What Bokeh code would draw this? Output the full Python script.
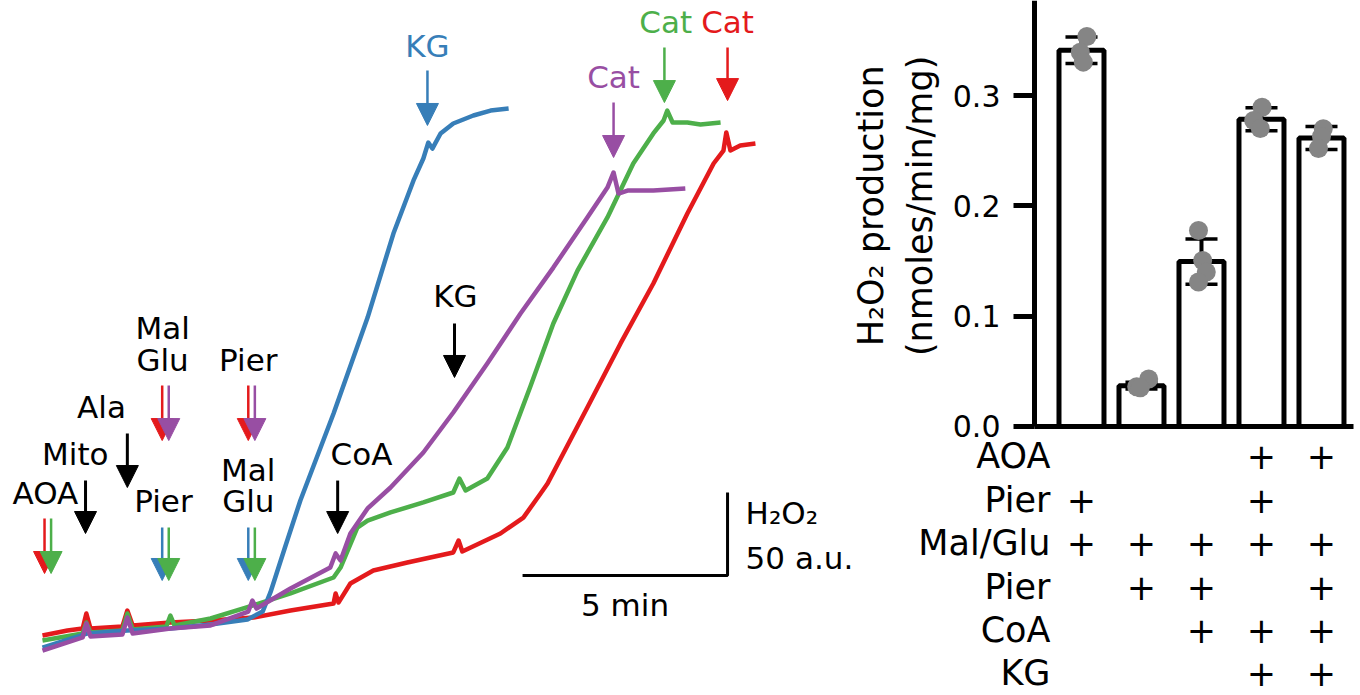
import math
from bokeh.plotting import figure
from bokeh.models import (ColumnDataSource, Arrow, NormalHead, Range1d, LinearAxis,
                          FixedTicker, PrintfTickFormatter)
from bokeh.core.properties import value
from bokeh.embed import file_html
from bokeh.resources import INLINE

FONT = "DejaVu Sans"
RED, GREEN, BLUE, PURPLE = "#e41a1c", "#4daf4a", "#377eb8", "#984ea3"

# ---------------- traces (time in min, H2O2 signal in a.u.) ----------------
red_t = [0, 0.61, 0.98, 1.07, 1.17, 1.95, 2.07, 2.20, 3.12, 4.10, 5.15, 6.05, 7.10, 7.15,
         7.22, 7.51, 8.07, 8.90, 10.02, 10.15, 10.24, 11.17, 11.73, 12.15, 12.32, 13.29,
         14.10, 14.90, 15.73, 16.37, 16.61, 16.68, 16.78, 17.02, 17.39]
red_y = [15.1, 18.1, 19.3, 28.3, 19.3, 20.5, 30.1, 21.1, 22.9, 24.1, 25.9, 30.1, 34.3, 40.4,
         34.9, 46.4, 54.2, 59.0, 65.1, 72.3, 65.7, 76.5, 86.1, 100.6, 106.6, 152.4,
         191.0, 227.1, 269.3, 299.4, 307.2, 318.1, 307.2, 310.2, 311.4]

green_t = [0, 0.98, 1.07, 1.17, 1.95, 2.07, 2.20, 3.02, 3.12, 3.22, 4.10, 5.12, 6.05, 7.10,
           7.27, 7.68, 7.93, 8.49, 9.29, 10.02, 10.17, 10.32, 10.85, 11.34, 11.90, 12.46,
           13.05, 13.78, 14.41, 14.90, 15.15, 15.24, 15.37, 15.73, 16.05, 16.54]
green_y = [12.0, 16.3, 22.9, 16.9, 18.1, 28.3, 18.7, 20.5, 27.1, 21.1, 25.3, 33.1, 40.4, 50.0,
           56.0, 80.1, 84.3, 89.2, 95.2, 101.2, 109.6, 102.4, 109.6, 128.3, 165.1, 203.0,
           234.9, 266.9, 299.4, 317.5, 325.3, 331.3, 324.1, 324.1, 322.9, 324.1]

blue_t = [0, 1.10, 2.07, 3.12, 4.10, 5.00, 5.37, 5.56, 5.93, 6.29, 7.10, 7.93, 8.56, 9.05,
          9.29, 9.41, 9.51, 9.71, 10.02, 10.51, 10.93, 11.37]
blue_y = [7.8, 16.3, 18.1, 19.3, 21.7, 24.7, 29.5, 41.0, 69.3, 96.4, 148.8, 206.6, 257.2, 289.2,
          302.4, 312.0, 308.4, 317.5, 323.5, 328.3, 331.3, 332.5]

purple_t = [0, 0.98, 1.07, 1.17, 1.95, 2.07, 2.20, 3.12, 4.10, 5.02, 5.12, 5.22, 6.05, 7.02,
            7.15, 7.27, 7.51, 7.93, 8.49, 9.29, 10.02, 10.85, 11.66, 12.46, 13.29, 13.78,
            13.93, 14.05, 14.27, 14.90, 15.68]
purple_y = [6.0, 13.9, 22.3, 14.5, 15.7, 25.9, 16.3, 19.3, 21.1, 29.5, 36.1, 31.3, 43.4, 56.0,
            64.5, 60.2, 76.5, 91.6, 104.2, 125.3, 149.4, 178.9, 209.0, 236.7, 266.9, 284.9,
            294.0, 281.3, 283.1, 283.1, 284.3]

# addition times (min)
t_aoa, t_mito, t_ala, t_first, t_second, t_coa, t_kg = 0.13, 1.05, 2.07, 3.0, 5.10, 7.20, 10.05
t_kg_blue, t_cat_purple, t_cat_green, t_cat_red = 9.39, 13.93, 15.17, 16.71

SCALE_MIN = 5     # scale bar: 5 min
SCALE_AU = 50     # scale bar: 50 a.u.

# ---------------- bar chart data ----------------
bar_x = [1, 2, 3, 4, 5]
bar_mean = [0.341, 0.037, 0.1495, 0.2785, 0.2615]
bar_sd = [0.012, 0.003, 0.0205, 0.0105, 0.0105]
dot_group = [1, 1, 1, 2, 2, 2, 3, 3, 3, 3, 4, 4, 4, 5, 5, 5]
dot_jitter = [0.09, -0.02, 0.03, -0.08, 0.12, -0.02, -0.05, 0.02, 0.08, -0.05, 0.01, -0.13, -0.02, 0.03, 0.0, -0.05]
dot_val = [0.3536, 0.3393, 0.3303, 0.036, 0.043, 0.035, 0.1777, 0.1505, 0.140, 0.131,
           0.2895, 0.2774, 0.2702, 0.270, 0.263, 0.252]
y_ticks = [0.0, 0.1, 0.2, 0.3]

row_labels = ["AOA", "Pier", "Mal/Glu", "Pier", "CoA", "KG"]
table = [[0, 0, 0, 1, 1],
         [1, 0, 0, 1, 0],
         [1, 1, 1, 1, 1],
         [0, 1, 1, 0, 1],
         [0, 0, 1, 1, 1],
         [0, 0, 0, 1, 1]]

# ================= one canvas, two coordinate systems =================
p = figure(width=1358, height=693, x_range=Range1d(-1.024, 32.10), y_range=Range1d(-19.88, 397.59),
           output_backend="svg", toolbar_location=None, x_axis_type=None, y_axis_type=None,
           min_border=0)
p.outline_line_color = None
p.extra_x_ranges = {"bx": Range1d(-17.017, 5.617)}
p.extra_y_ranges = {"by": Range1d(-0.2421, 0.3862), "rows": Range1d(start=5.461, end=-10.507)}

# ---- left panel: traces ----
for t, y, c in [(red_t, red_y, RED), (green_t, green_y, GREEN), (blue_t, blue_y, BLUE),
                (purple_t, purple_y, PURPLE)]:
    p.line(t, y, line_color=c, line_width=4.5, line_join="round")


def arrows(xs, y_top, y_tip, color, lw=3):
    src = ColumnDataSource(dict(x=xs, y0=[y_top] * len(xs), y1=[y_tip] * len(xs)))
    p.add_layout(Arrow(source=src, x_start="x", y_start="y0", x_end="x", y_end="y1",
                       line_color=color, line_width=lw,
                       end=NormalHead(size=22, fill_color=color, line_color=color, line_width=1)))


dx = 0.08  # half separation of paired arrows
arrows([t_mito, t_coa], 108.4, 76.5, "black")
arrows([t_ala], 136.7, 104.2, "black")
arrows([t_kg], 203.0, 170.5, "black")
arrows([t_aoa - dx], 85.5, 52.4, RED, 2.5)
arrows([t_aoa + dx], 85.5, 52.4, GREEN, 2.5)
arrows([t_first - dx, t_second - dx], 80.1, 48.2, BLUE, 2.5)
arrows([t_first + dx, t_second + dx], 80.1, 48.2, GREEN, 2.5)
arrows([t_first - dx, t_second - dx], 165.7, 132.5, RED, 2.5)
arrows([t_first + dx, t_second + dx], 165.7, 132.5, PURPLE, 2.5)
arrows([t_kg_blue], 355.4, 322.3, BLUE, 2.5)
arrows([t_cat_purple], 336.1, 303.0, PURPLE, 2.5)
arrows([t_cat_green], 369.3, 336.1, GREEN, 2.5)
arrows([t_cat_red], 369.3, 337.3, RED, 2.5)

dy = 6.6  # lift labels so that their glyphs sit on the reference baselines
txt = dict(text_font=value(FONT), text_font_size="31px", text_align="center",
           text_baseline="alphabetic")
p.text(x=[0.07, 0.80, 1.44, t_first - 0.07, t_first - 0.07, t_second - 0.08, t_first - 0.05,
          t_second - 0.08, t_second - 0.08, 7.78, 10.07],
       y=[v + dy for v in [94.6, 117.5, 146.4, 194.0, 174.7, 174.7, 89.2, 108.4, 89.2, 117.5, 212.7]],
       text=["AOA", "Mito", "Ala", "Mal", "Glu", "Pier", "Pier", "Mal", "Glu", "CoA", "KG"],
       text_color="black", **txt)
p.text(x=[t_kg_blue], y=[363.3 + dy], text=["KG"], text_color=BLUE, **txt)
p.text(x=[t_cat_purple], y=[345.2 + dy], text=["Cat"], text_color=PURPLE, **txt)
p.text(x=[t_cat_green + 0.03], y=[378.3 + dy], text=["Cat"], text_color=GREEN, **txt)
p.text(x=[t_cat_red], y=[378.3 + dy], text=["Cat"], text_color=RED, **txt)

# scale bar
sb_x, sb_y = 11.71, 51.2
p.line(x=[sb_x, sb_x + SCALE_MIN, sb_x + SCALE_MIN], y=[sb_y, sb_y, sb_y + SCALE_AU],
       line_color="black", line_width=3)
p.text(x=[sb_x + SCALE_MIN / 2], y=[27.1 + dy], text=["%d min" % SCALE_MIN], text_color="black", **txt)
p.text(x=[17.15, 17.15], y=[82.5 + dy, 55.4 + dy], text=["H\u2082O\u2082", "%d a.u." % SCALE_AU],
       text_color="black", text_font=value(FONT), text_font_size="31px", text_align="left",
       text_baseline="alphabetic")

# ---- right panel: bars ----
yaxis = LinearAxis(x_range_name="bx", y_range_name="by", fixed_location=0.2167,
                   bounds=(0, 0.3862), ticker=FixedTicker(ticks=y_ticks),
                   formatter=PrintfTickFormatter(format="%.1f"),
                   axis_line_width=5, axis_line_color="black",
                   major_tick_line_width=5, major_tick_out=21, major_tick_in=0,
                   minor_tick_line_color=None, major_label_standoff=13,
                   major_label_text_font=FONT, major_label_text_font_size="30px",
                   major_label_text_color="black")
p.add_layout(yaxis, "left")
xaxis = LinearAxis(x_range_name="bx", y_range_name="by", fixed_location=0,
                   bounds=(0.2167, 5.533), ticker=FixedTicker(ticks=[]),
                   axis_line_width=5, axis_line_color="black", major_tick_line_color=None,
                   minor_tick_line_color=None, major_label_text_font_size="0px")
p.add_layout(xaxis, "below")

br = dict(x_range_name="bx", y_range_name="by")
p.vbar(x=bar_x, top=bar_mean, bottom=0, width=0.75, fill_color="white",
       line_color="black", line_width=5, **br)

lo = [m - s for m, s in zip(bar_mean, bar_sd)]
hi = [m + s for m, s in zip(bar_mean, bar_sd)]
cap = 0.267
p.segment(x0=bar_x, y0=lo, x1=bar_x, y1=hi, line_color="black", line_width=4, **br)
p.segment(x0=[x - cap for x in bar_x] * 2, y0=lo + hi, x1=[x + cap for x in bar_x] * 2,
          y1=lo + hi, line_color="black", line_width=3.5, **br)

p.scatter(x=[g + j for g, j in zip(dot_group, dot_jitter)], y=dot_val, size=19,
          fill_color="#858585", line_color=None, **br)

p.text(x=[-2.5, -1.692], y=[0.2, 0.2], text=["H\u2082O\u2082 production", "(nmoles/min/mg)"],
       angle=math.pi / 2, text_align="center", text_baseline="middle",
       text_font=value(FONT), text_font_size="35px", text_color="black", **br)

p.text(x=[0.483] * len(row_labels), y=list(range(len(row_labels))), text=row_labels,
       x_range_name="bx", y_range_name="rows", text_align="right", text_baseline="alphabetic",
       text_font=value(FONT), text_font_size="35px", text_color="black")
px, py = [], []
for i, r in enumerate(table):
    for j, on in enumerate(r):
        if on:
            px.append(bar_x[j])
            py.append(i)
p.text(x=px, y=py, text=["+"] * len(px), x_range_name="bx", y_range_name="rows",
       text_align="center", text_baseline="alphabetic", text_font=value(FONT),
       text_font_size="35px", text_color="black")

open("out.html", "w").write(file_html(p, INLINE))
